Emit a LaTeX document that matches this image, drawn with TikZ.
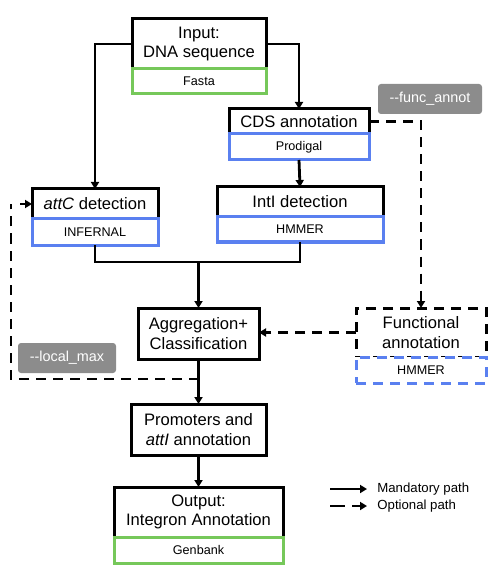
\documentclass[tikz,border=0pt]{standalone}
\usepackage{fontspec}
\setmainfont{Liberation Sans}
\usetikzlibrary{positioning,arrows.meta}
\definecolor{toolgreen}{RGB}{118,200,90}
\definecolor{toolblue}{RGB}{90,128,240}
\definecolor{optgray}{RGB}{140,140,140}

\begin{document}
\begin{tikzpicture}[x=0.5pt,y=-0.5pt,
  stage/.style={draw, line width=1.5pt, align=center, inner sep=0pt, outer sep=0pt,
    font=\fontsize{8.3}{9.8}\selectfont},
  tool/.style={draw, line width=1.5pt, inner sep=0pt, outer sep=0pt, fill=white,
    font=\fontsize{6.3}{7}\selectfont},
  optbox/.style={stage, dash pattern=on 5pt off 3.5pt},
  flag/.style={fill=optgray, rounded corners=1.5pt, text=white, inner sep=0pt,
    minimum height=15pt, font=\fontsize{7.2}{8}\selectfont},
  flow/.style={line width=1.4pt, -{Triangle[length=3.5pt,width=4pt]}},
  mand/.style={line width=1.4pt},
  opt/.style={line width=1.4pt, dash pattern=on 5pt off 3.5pt},
  legend/.style={anchor=west, inner sep=0pt, font=\fontsize{6.6}{7}\selectfont}]
  \useasboundingbox (0,0) rectangle (496,587);

  % stages of the pipeline
  \node[stage, minimum width=67pt, minimum height=25pt] (input) at (199,44) {Input:\\DNA sequence};
  \node[tool, draw=toolgreen, minimum width=67pt, minimum height=12.5pt, below=0pt of input] (fasta) {Fasta};

  \node[stage, minimum width=70pt, minimum height=12.5pt] (cds) at (299,121.5) {CDS annotation};
  \node[tool, draw=toolblue, minimum width=70pt, minimum height=13pt, below=0pt of cds] (prodigal) {Prodigal};

  \node[stage, minimum width=63pt, minimum height=15pt] (attc) at (95,204) {\textit{attC} detection};
  \node[tool, draw=toolblue, minimum width=63pt, minimum height=13pt, below=0pt of attc] (infernal) {INFERNAL};

  \node[stage, minimum width=83pt, minimum height=15pt] (inti) at (300,202) {IntI detection};
  \node[tool, draw=toolblue, minimum width=83pt, minimum height=12.5pt, below=0pt of inti] (hmmer) {HMMER};

  \node[stage, minimum width=60.5pt, minimum height=25.5pt] (aggr) at (198.5,333.5) {Aggregation+\\Classification};

  \node[optbox, minimum width=65pt, minimum height=24.5pt] (func) at (421,332.5) {Functional\\annotation};
  \node[tool, draw=toolblue, dash pattern=on 5pt off 3.5pt, minimum width=65pt, minimum height=13pt,
    below=0pt of func] (funchmmer) {HMMER};

  \node[stage, minimum width=67.5pt, minimum height=25.5pt] (prom) at (198.5,429.5) {Promoters and\\\textit{attI} annotation};

  \node[stage, minimum width=84.5pt, minimum height=25pt] (output) at (198.5,512) {Output:\\Integron Annotation};
  \node[tool, draw=toolgreen, minimum width=84.5pt, minimum height=13pt, below=0pt of output] (genbank) {Genbank};

  % option flags
  \node[flag, minimum width=52pt] (funcflag) at (430,99) {{-}{-}func\_annot};
  \node[flag, minimum width=49pt] (maxflag) at (67,358) {{-}{-}local\_max};

  % mandatory path
  \coordinate (merge) at (198.5,262);
  \coordinate (tap) at (198.5,379);
  \coordinate (loopx) at (11,379);
  \draw[flow] (input.west) -| (attc.north);
  \draw[flow] (input.east) -| (cds.north);
  \draw[flow] (prodigal.south) -- (inti.north);
  \draw[mand] (infernal.south) |- (merge);
  \draw[mand] (hmmer.south) |- (merge);
  \draw[flow] (merge) -- (aggr.north);
  \draw[flow] (aggr.south) -- (prom.north);
  \draw[flow] (prom.south) -- (output.north);

  % optional path
  \draw[opt, -{Triangle[length=3.5pt,width=4pt]}] (cds.east) -| (func.north);
  \draw[opt, -{Triangle[length=3.5pt,width=4pt]}] (func.west) -- (func.west -| aggr.east);
  \draw[opt] (tap) -- (loopx) -- (loopx |- attc.west);
  \draw[flow] (loopx |- attc.west) ++(9,0) -- (attc.west);

  % legend
  \coordinate (mandA) at (330,489);
  \coordinate (mandB) at (367,489);
  \coordinate (optA) at (330,506);
  \coordinate (optB) at (367,506);
  \draw[flow] (mandA) -- (mandB);
  \draw[line width=1.4pt, dash pattern=on 7.5pt off 3.5pt, -{Triangle[length=3.5pt,width=4pt]}] (optA) -- (optB);
  \node[legend] (mandtxt) at (377,489) {Mandatory path};
  \node[legend] (opttxt) at (377,506) {Optional path};
\end{tikzpicture}
\end{document}
